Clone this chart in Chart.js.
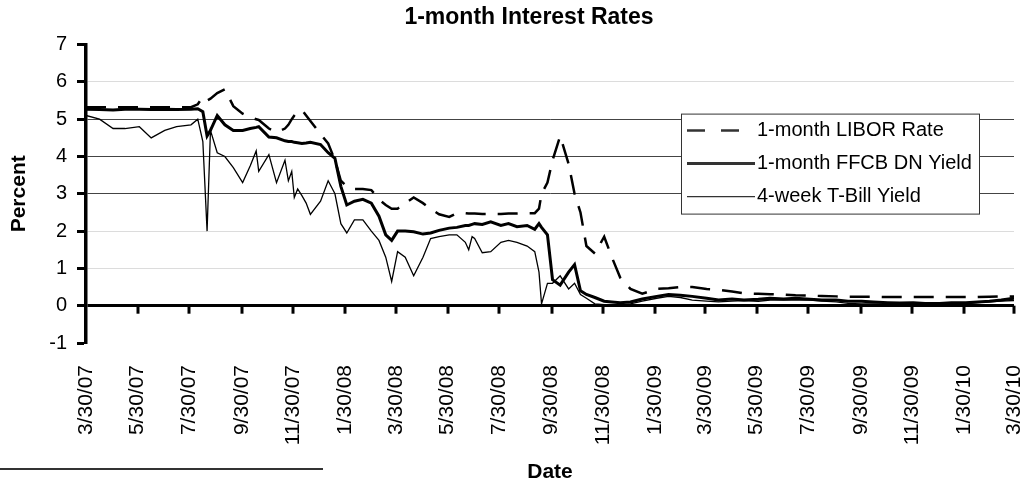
<!DOCTYPE html>
<html>
<head>
<meta charset="utf-8">
<title>1-month Interest Rates</title>
<script src="https://cdn.jsdelivr.net/npm/chart.js"></script>
<style>
	body { margin: 0; background: #fff; }
	#wrap { width: 1028px; height: 482px; }
</style>
</head>
<body>
<div id="wrap"><canvas id="myChart" width="1028" height="482"></canvas></div>
<script>
var tickLabels = ["3/30/07", "5/30/07", "7/30/07", "9/30/07", "11/30/07", "1/30/08", "3/30/08", "5/30/08", "7/30/08",
	"9/30/08", "11/30/08", "1/30/09", "3/30/09", "5/30/09", "7/30/09", "9/30/09", "11/30/09", "1/30/10", "3/30/10"];

var dates = ["3/30/07", "4/15/07", "5/1/07", "5/15/07", "6/1/07", "6/15/07", "7/1/07", "7/15/07", "8/1/07", "8/9/07",
	"8/15/07", "8/20/07", "8/24/07", "9/1/07", "9/10/07", "9/20/07", "10/1/07", "10/10/07", "10/17/07", "10/20/07",
	"11/1/07", "11/10/07", "11/20/07", "11/24/07", "11/28/07", "12/1/07", "12/5/07", "12/10/07", "12/15/07", "12/20/07",
	"1/1/08", "1/10/08", "1/18/08", "1/25/08", "2/1/08", "2/10/08", "2/20/08", "3/1/08", "3/10/08", "3/18/08",
	"3/25/08", "4/1/08", "4/10/08", "4/20/08", "5/1/08", "5/10/08", "5/20/08", "6/1/08", "6/10/08", "6/20/08",
	"6/24/08", "6/28/08", "7/1/08", "7/10/08", "7/20/08", "8/1/08", "8/10/08", "8/20/08", "9/1/08", "9/10/08",
	"9/15/08", "9/18/08", "9/25/08", "10/1/08", "10/10/08", "10/20/08", "10/27/08", "11/3/08", "11/10/08", "11/20/08",
	"12/1/08", "12/10/08", "12/20/08", "1/1/09",
	"1/15/09", "2/1/09", "2/15/09", "3/1/09", "3/15/09", "4/1/09", "4/15/09", "5/1/09", "5/15/09", "6/1/09",
	"6/15/09", "7/1/09", "7/15/09", "8/1/09", "8/15/09", "9/1/09", "9/15/09", "10/1/09", "10/15/09", "11/1/09",
	"11/15/09", "12/1/09", "12/15/09", "1/1/10", "1/15/10", "2/1/10", "2/15/10", "3/1/10", "3/15/10", "3/30/10"];

var libor = [5.32, 5.32, 5.32, 5.32, 5.32, 5.32, 5.32, 5.32, 5.32, 5.4,
	5.6, 5.5, 5.55, 5.7, 5.8, 5.35, 5.15, 5.05, 5.0, 4.98,
	4.75, 4.65, 4.75, 4.85, 5.0, 5.1, 5.2, 5.25, 5.1, 4.95,
	4.6, 4.35, 3.9, 3.35, 3.2, 3.13, 3.13, 3.1, 2.85, 2.7,
	2.6, 2.6, 2.75, 2.9, 2.75, 2.6, 2.45, 2.38, 2.48, 2.48,
	2.47, 2.47, 2.47, 2.46, 2.46, 2.46, 2.47, 2.47, 2.48, 2.48,
	2.6, 3.0, 3.3, 3.9, 4.55, 3.8, 3.0, 2.5, 1.6, 1.4,
	1.85, 1.3, 0.75, 0.45,
	0.32, 0.45, 0.47, 0.5, 0.5, 0.45, 0.43, 0.38, 0.33, 0.32,
	0.31, 0.3, 0.28, 0.27, 0.26, 0.25, 0.24, 0.24, 0.24, 0.23,
	0.23, 0.23, 0.23, 0.23, 0.23, 0.23, 0.23, 0.24, 0.25, 0.25];

var ffcb = [5.27, 5.26, 5.25, 5.27, 5.27, 5.26, 5.27, 5.26, 5.27, 5.28,
	5.2, 4.55, 4.7, 5.1, 4.85, 4.7, 4.7, 4.75, 4.78, 4.8,
	4.52, 4.5, 4.42, 4.4, 4.4, 4.38, 4.37, 4.35, 4.36, 4.38,
	4.32, 4.1, 3.95, 3.2, 2.7, 2.8, 2.85, 2.75, 2.4, 1.9,
	1.75, 2.0, 2.0, 1.98, 1.92, 1.95, 2.02, 2.08, 2.1, 2.15,
	2.15, 2.18, 2.2, 2.18, 2.25, 2.15, 2.2, 2.12, 2.15, 2.05,
	2.2, 2.1, 1.9, 0.7, 0.55, 0.9, 1.1, 0.4, 0.3, 0.22,
	0.12, 0.1, 0.08, 0.1,
	0.18, 0.25, 0.3, 0.28, 0.25, 0.2, 0.15, 0.18, 0.15, 0.17,
	0.2, 0.18, 0.2, 0.17, 0.15, 0.15, 0.12, 0.12, 0.1, 0.08,
	0.07, 0.08, 0.06, 0.06, 0.08, 0.08, 0.1, 0.12, 0.15, 0.2];

var tbill = [5.1, 5.0, 4.75, 4.75, 4.8, 4.5, 4.7, 4.8, 4.85, 5.0,
	4.4, 2.0, 4.7, 4.1, 4.0, 3.7, 3.3, 3.75, 4.15, 3.6,
	4.05, 3.3, 3.9, 3.35, 3.6, 2.9, 3.13, 2.95, 2.75, 2.45,
	2.8, 3.35, 3.0, 2.2, 1.95, 2.3, 2.3, 2.0, 1.75, 1.3,
	0.65, 1.45, 1.3, 0.8, 1.3, 1.8, 1.85, 1.9, 1.9, 1.7,
	1.5, 1.85, 1.8, 1.42, 1.45, 1.7, 1.75, 1.7, 1.6, 1.45,
	0.9, 0.05, 0.6, 0.6, 0.8, 0.45, 0.6, 0.3, 0.2, 0.05,
	0.03, 0.02, 0.01, 0.05,
	0.12, 0.2, 0.25, 0.22, 0.15, 0.12, 0.1, 0.12, 0.14, 0.12,
	0.15, 0.15, 0.16, 0.15, 0.12, 0.1, 0.06, 0.05, 0.05, 0.04,
	0.03, 0.03, 0.02, 0.03, 0.04, 0.05, 0.08, 0.1, 0.12, 0.14];

var FONT = "'Liberation Sans', Arial, Helvetica, sans-serif";

// "m/d/yy" -> days since the first tick date
function toDay(s) {
	var p = s.split("/");
	return Date.UTC(2000 + Number(p[2]), Number(p[0]) - 1, Number(p[1]));
}
var start = toDay(tickLabels[0]);
function dayOf(s) { return Math.round((toDay(s) - start) / 86400000); }

var tickDays = tickLabels.map(dayOf);
var xDays = dates.map(dayOf);

function points(values) {
	var out = [];
	for (var i = 0; i < values.length; i++) {
		out.push({ x: xDays[i], y: values[i] });
	}
	return out;
}

// x-axis tick marks hanging under the zero line, the legend box and the footnote rule
var decor = {
	id: "decor",
	afterDatasetsDraw: function(chart) {
		var ctx = chart.ctx;
		var xs = chart.scales.x, ys = chart.scales.y;
		var y0 = ys.getPixelForValue(0);
		ctx.save();
		ctx.strokeStyle = "#000";
		ctx.lineWidth = 3;
		xs.ticks.forEach(function(t) {
			if (t.value === 0) return;
			var px = Math.round(xs.getPixelForValue(t.value));
			ctx.beginPath();
			ctx.moveTo(px, y0);
			ctx.lineTo(px, y0 + 8);
			ctx.stroke();
		});

		var area = chart.chartArea;
		var bx = area.left + 595, by = area.top + 69, bw = 298, bh = 100;
		ctx.fillStyle = "#fff";
		ctx.fillRect(bx, by, bw, bh);
		ctx.lineWidth = 1;
		ctx.strokeStyle = "#333";
		ctx.strokeRect(bx + 0.5, by + 0.5, bw, bh);
		ctx.font = "20px " + FONT;
		ctx.textBaseline = "middle";
		ctx.fillStyle = "#000";
		chart.data.datasets.forEach(function(ds, i) {
			var ly = by + 17 + i * 33;
			ctx.beginPath();
			ctx.lineWidth = ds.borderWidth;
			ctx.setLineDash(ds.borderDash ? [18, 16] : []);
			ctx.moveTo(bx + 6, ly);
			ctx.lineTo(bx + 74, ly);
			ctx.stroke();
			ctx.setLineDash([]);
			ctx.fillText(ds.label, bx + 76, ly);
		});

		ctx.lineWidth = 2;
		ctx.beginPath();
		ctx.moveTo(0, 469);
		ctx.lineTo(323, 469);
		ctx.stroke();
		ctx.restore();
	}
};

var ctx = document.getElementById("myChart");

var data = {
	datasets: [
		{
			label: "1-month LIBOR Rate",
			data: points(libor),
			borderColor: "#000",
			borderWidth: 2.5,
			borderDash: [20, 12],
			pointRadius: 0,
			fill: false,
			tension: 0
		},
		{
			label: "1-month FFCB DN Yield",
			data: points(ffcb),
			borderColor: "#000",
			borderWidth: 3,
			pointRadius: 0,
			fill: false,
			tension: 0
		},
		{
			label: "4-week T-Bill Yield",
			data: points(tbill),
			borderColor: "#000",
			borderWidth: 1.3,
			pointRadius: 0,
			fill: false,
			tension: 0
		}
	]
};

var myChart = new Chart(ctx, {
	type: "line",
	data: data,
	plugins: [decor],
	options: {
		responsive: false,
		animation: false,
		layout: { padding: { left: 30, right: 0, top: 0, bottom: 0 } },
		plugins: {
			legend: { display: false },
			tooltip: { enabled: false },
			title: {
				display: true,
				text: "1-month Interest Rates",
				color: "#000",
				font: { family: FONT, size: 23, weight: "bold" },
				padding: { top: 4, bottom: 13 }
			}
		},
		scales: {
			x: {
				type: "linear",
				min: 0,
				max: tickDays[tickDays.length - 1],
				afterBuildTicks: function(scale) {
					scale.ticks = tickDays.map(function(d) { return { value: d }; });
				},
				afterFit: function(scale) {
					scale.height = 139;
					scale.paddingLeft = 0;
					scale.paddingRight = 14;
				},
				grid: { display: false },
				border: { display: false },
				ticks: {
					autoSkip: false,
					minRotation: 90,
					maxRotation: 90,
					padding: 14,
					color: "#000",
					font: { family: FONT, size: 21 },
					callback: function(value, index) { return tickLabels[index]; }
				},
				title: {
					display: true,
					text: "Date",
					color: "#000",
					font: { family: FONT, size: 21, weight: "bold" },
					padding: { top: 0, bottom: -3 }
				}
			},
			y: {
				min: -1,
				max: 7,
				afterFit: function(scale) { scale.width = 56; },
				ticks: {
					stepSize: 1,
					padding: 10,
					color: "#000",
					font: { family: FONT, size: 20 }
				},
				grid: {
					color: function(c) {
						var v = c.tick.value;
						if (v === 0) return "#000";
						if (v === 7 || v === -1) return "rgba(0,0,0,0)";
						if (v >= 3 && v <= 5) return "#444";
						return "#dcdcdc";
					},
					lineWidth: function(c) { return c.tick.value === 0 ? 3 : 1; },
					tickColor: "#000",
					tickWidth: 3,
					tickLength: 9
				},
				border: { display: true, color: "#000", width: 3.5 },
				title: {
					display: true,
					text: "Percent",
					color: "#000",
					font: { family: FONT, size: 21, weight: "bold" },
					padding: { top: -23, bottom: 0 }
				}
			}
		}
	}
});
</script>
</body>
</html>
